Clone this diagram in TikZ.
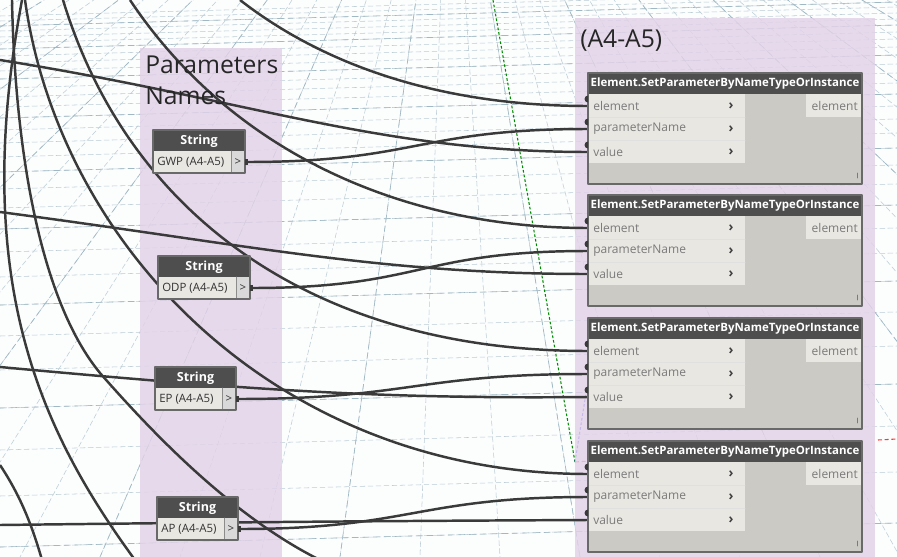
\documentclass[tikz,border=0pt]{standalone}
\usepackage{fontspec}
\setmainfont{Open Sans}
\usetikzlibrary{positioning}
\definecolor{wirecol}{HTML}{3A3A3A}
\definecolor{hdrcol}{HTML}{4E4E4E}
\definecolor{rowcol}{HTML}{E9E7E2}
\definecolor{bodycol}{HTML}{CCCAC5}
\definecolor{grpcol}{HTML}{E2D2E8}
\definecolor{gridcol}{HTML}{9FB8C4}
\definecolor{porttxt}{HTML}{7A7A7A}
\pgfdeclarelayer{wires}
\pgfdeclarelayer{back}
\pgfsetlayers{back,wires,main}
\tikzset{
  wire/.style={draw=wirecol, line width=1.85pt},
  gridline/.style={draw=gridcol, line width=0.5pt, dash pattern=on 5pt off 3pt},
  finegrid/.style={draw=gridcol!70, line width=0.4pt, dash pattern=on 4pt off 2pt},
  grouptitle/.style={anchor=north west, inner sep=0pt, align=left,
    font=\fontsize{18.5}{23}\selectfont, text=black!85},
  hdrtext/.style={text=white, inner sep=0pt, font=\fontsize{8.6}{10}\selectfont\bfseries},
  strhead/.style={text=white, inner sep=0pt, font=\fontsize{9.4}{11}\selectfont\bfseries},
  porttext/.style={text=porttxt, inner sep=0pt, font=\fontsize{9}{11}\selectfont},
  strtext/.style={text=black!80, inner sep=0pt, font=\fontsize{8.6}{10}\selectfont},
  chevron/.style={text=black!75, inner sep=0pt, font=\fontsize{10}{11}\selectfont\bfseries}
}
\begin{document}
\begin{tikzpicture}[x=0.75pt,y=-0.75pt,line cap=round,line join=round]
  \clip (0,0) rectangle (897,557);
  \begin{pgfonlayer}{back}
    \fill[white!97!gridcol] (0,0) rectangle (897,557);
    % perspective grid
    \foreach \yy in {4,9,14,19,25,31,37,44,51,59,67,76,85,95,106,118,131,145,160,177,196,217,240,265,293,324,358,396,438,484,535}
      \draw[finegrid] (0,\yy+12) -- (897,\yy-12);
    \foreach \yy in {14,37,67,106,160,217,293,396,535}
      \draw[gridline] (0,\yy+12) -- (897,\yy-12);
    \foreach \xb in {-1100,-1020,...,2100}
      \draw[finegrid] (450,-250) -- (\xb,557);
    \foreach \xb in {-1100,-860,...,2100}
      \draw[gridline] (450,-250) -- (\xb,557);
    % axes
    \draw[green!55!black, line width=0.8pt, dash pattern=on 2pt off 1.5pt] (493,0) -- (575,462);
    \draw[blue!70, line width=0.8pt, dash pattern=on 2pt off 1.5pt] (575,462) -- (587,387);
    \draw[red!80, line width=0.8pt, dash pattern=on 3pt off 2pt] (575,462) -- (590,461) (878,440) -- (897,439);
    % groups
    \fill[grpcol, fill opacity=0.82] (140,48) rectangle (282,560);
    \fill[grpcol, fill opacity=0.82] (575,18) rectangle (875,560);
  \end{pgfonlayer}
  \node[grouptitle] (pnames) at (145,56) {Parameters\\Names};
  \node[grouptitle] (a4a5) at (580,30) {(A4-A5)};

  % Element.SetParameterByNameTypeOrInstance nodes
  \foreach \t/\k in {73/1,195/2,318/3,441/4}{
    \fill[bodycol] (588,\t) rectangle (862,\t+111);
    \fill[rowcol] (589,\t+21) rectangle (745,\t+90);
    \fill[rowcol] (806,\t+21) rectangle (861,\t+44);
    \draw[white!88!black, line width=0.5pt] (589,\t+44) -- (745,\t+44) (589,\t+67) -- (745,\t+67);
    \fill[hdrcol] (588,\t) rectangle (862,\t+21);
    \draw[hdrcol!85, line width=0.8pt] (588,\t) rectangle (862,\t+111);
    \node[hdrtext] (hd\k) at (725,\t+11) {Element.SetParameterByNameTypeOrInstance};
    \node[porttext, anchor=west] (el\k) at (593,\t+33) {element};
    \node[porttext, anchor=west] (pn\k) at (593,\t+56) {parameterName};
    \node[porttext, anchor=west] (va\k) at (593,\t+79) {value};
    \node[porttext, anchor=east] (out\k) at (858,\t+33) {element};
    \foreach \dy in {33,56,79}
      \node[chevron] at (731,\t+\dy) {\char"203A};
    \draw[porttxt, line width=0.5pt] (857,\t+100) -- (857,\t+105);
    \coordinate (elin\k) at (588,\t+33);
    \coordinate (pnin\k) at (588,\t+56);
    \coordinate (vain\k) at (588,\t+79);
    \foreach \dy in {33,56,79}
      \fill[wirecol] (588,\t+\dy-3.5) arc (90:270:3.5) -- cycle;
  }

  % String nodes
  \foreach \x/\y/\w/\lbl/\k in {153/130/92/GWP (A4-A5)/1,158/256/92/ODP (A4-A5)/2,
      155/367/81/EP (A4-A5)/3,157/497/81/AP (A4-A5)/4}{
    \fill[hdrcol] (\x,\y) rectangle (\x+\w,\y+21);
    \fill[rowcol] (\x,\y+21) rectangle (\x+\w-14,\y+43);
    \fill[white!85!black] (\x+\w-14,\y+21) rectangle (\x+\w,\y+43);
    \draw[black!45, line width=0.5pt] (\x+\w-14,\y+21) -- (\x+\w-14,\y+43);
    \draw[hdrcol!85, line width=0.8pt] (\x,\y) rectangle (\x+\w,\y+43);
    \node[strhead] (st\k) at (\x+\w/2,\y+11) {String};
    \node[strtext, anchor=west] (sv\k) at (\x+4,\y+32) {\lbl};
    \node[strtext] at (\x+\w-7,\y+32) {>};
    \fill[wirecol] (\x+\w,\y+29) rectangle (\x+\w+3,\y+35);
    \coordinate (so\k) at (\x+\w+2,\y+32);
  }

  \begin{pgfonlayer}{wires}
    % string outputs into parameterName
    \foreach \k in {1,2,3,4}
      \draw[wire] (so\k) .. controls +(170,0) and +(-170,0) .. (pnin\k);
    % values coming in from the left
    \draw[wire] (0,60) .. controls (250,100) and (380,152) .. (vain1);
    \draw[wire] (0,212) .. controls (250,245) and (380,274) .. (vain2);
    \draw[wire] (0,367) .. controls (250,390) and (380,399) .. (vain3);
    \draw[wire] (0,525) .. controls (250,522) and (380,521) .. (vain4);
    % elements coming down from the top
    \draw[wire] (240,0) .. controls (330,70) and (450,106) .. (elin1);
    \draw[wire] (130,0) .. controls (230,150) and (400,228) .. (elin2);
    \draw[wire] (63,0) .. controls (130,220) and (320,351) .. (elin3);
    \draw[wire] (25,0) .. controls (60,250) and (280,474) .. (elin4);
    % other wires
    \draw[wire] (22,0) .. controls (-30,280) and (40,430) .. (135,560);
    \draw[wire] (12,0) .. controls (15,150) and (40,300) .. (100,373)
      .. controls (150,430) and (230,515) .. (320,560);
    \draw[wire] (0,465) .. controls (20,495) and (32,525) .. (42,560);
  \end{pgfonlayer}
\end{tikzpicture}
\end{document}
